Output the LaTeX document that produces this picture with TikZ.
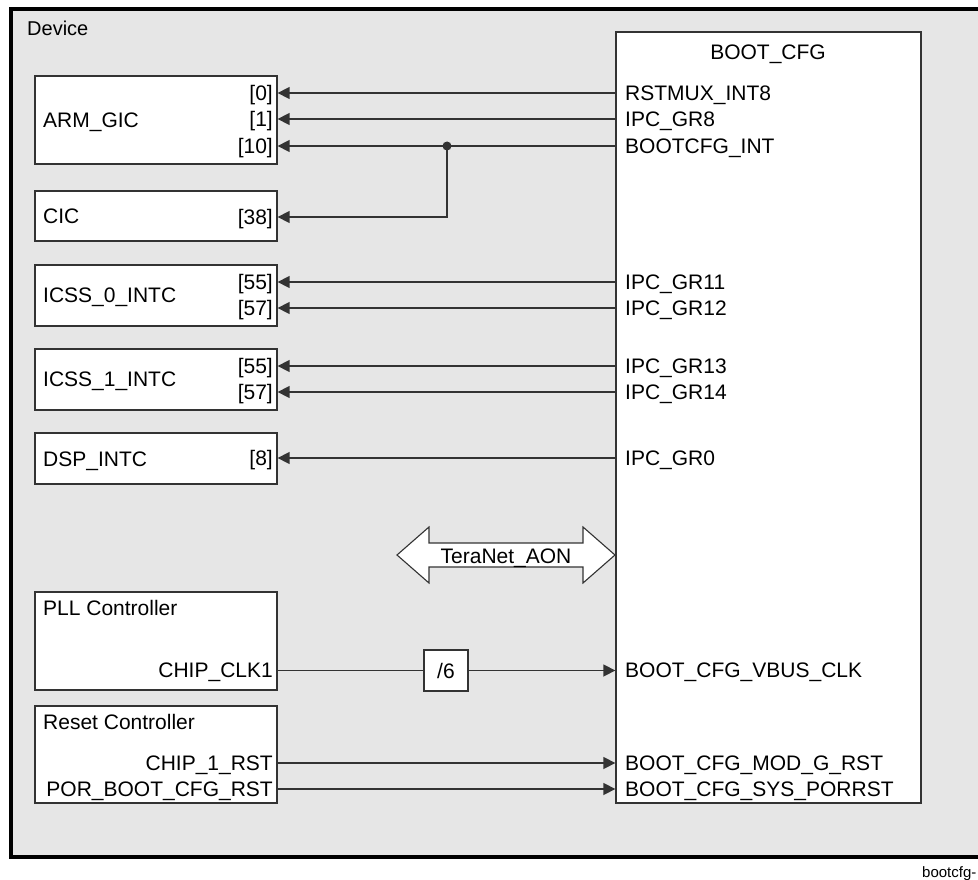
\documentclass[tikz,border=0pt]{standalone}
\usepackage{fontspec}
\setmainfont{Liberation Sans}
\usetikzlibrary{arrows.meta}
\definecolor{bg}{HTML}{E6E6E6}
\definecolor{ln}{HTML}{333333}
\begin{document}
\begin{tikzpicture}[x=1pt,y=-1pt,
  box/.style={draw=ln, line width=1.3pt, fill=white, inner sep=0pt},
  sig/.style={draw=ln, line width=1.5pt, -{Triangle[length=12pt,width=12pt]}},
  wire/.style={draw=ln, line width=1.5pt},
  lbl/.style={inner sep=0pt, font=\fontsize{21}{25}\selectfont},
  pinl/.style={lbl, anchor=base east},
  pinr/.style={lbl, anchor=base west},
  bname/.style={lbl, anchor=base west},
]
\useasboundingbox (0,0) rectangle (978,880);
\begin{scope}
  \clip (0,0) rectangle (978,880);
  \node[draw=black, line width=4pt, fill=bg, inner sep=0pt,
        minimum width=990pt, minimum height=848pt] (dev) at (505.5,433) {};
\end{scope}
\node[lbl, anchor=base west, font=\fontsize{20}{24}\selectfont] (devlbl) at (27,35.5) {Device};

% boxes
\node[box, minimum width=305pt, minimum height=771pt] (boot) at (768.5,417.5) {};
\node[box, minimum width=242pt, minimum height=88pt] (arm) at (156,120) {};
\node[box, minimum width=242pt, minimum height=50pt] (cic) at (156,216) {};
\node[box, minimum width=242pt, minimum height=61pt] (icss0) at (156,295.5) {};
\node[box, minimum width=242pt, minimum height=61pt] (icss1) at (156,379.5) {};
\node[box, minimum width=242pt, minimum height=51pt] (dsp) at (156,458.5) {};
\node[box, minimum width=242pt, minimum height=98pt] (pll) at (156,641) {};
\node[box, minimum width=242pt, minimum height=97pt] (rst) at (156,754.5) {};
\node[box, minimum width=44pt, minimum height=41pt] (div) at (446,670.5) {};

% box names
\node[lbl, anchor=base] (boottitle) at (768,59.5) {BOOT\_CFG};
\node[bname] (armn) at (43,127.5) {ARM\_GIC};
\node[bname] (cicn) at (43,224) {CIC};
\node[bname] (icss0n) at (43,302) {ICSS\_0\_INTC};
\node[bname] (icss1n) at (43,386.5) {ICSS\_1\_INTC};
\node[bname] (dspn) at (43,466) {DSP\_INTC};
\node[bname] (plln) at (43,615) {PLL Controller};
\node[bname] (rstn) at (43,729) {Reset Controller};
\node[lbl, anchor=base] (divn) at (446,678.5) {/6};

% left pins
\node[pinl] (a0) at (273,100.5) {[0]};
\node[pinl] (a1) at (273,126.5) {[1]};
\node[pinl] (a10) at (273,153.5) {[10]};
\node[pinl] (c38) at (273,224.5) {[38]};
\node[pinl] (i55) at (273,289.5) {[55]};
\node[pinl] (i57) at (273,315.5) {[57]};
\node[pinl] (j55) at (273,373.5) {[55]};
\node[pinl] (j57) at (273,399.5) {[57]};
\node[pinl] (d8) at (273,465.5) {[8]};
\node[pinl] (clk) at (273,677.5) {CHIP\_CLK1};
\node[pinl] (r1) at (273,770.5) {CHIP\_1\_RST};
\node[pinl] (r2) at (273,796.5) {POR\_BOOT\_CFG\_RST};

% right pins
\node[pinr] (b0) at (625,100.5) {RSTMUX\_INT8};
\node[pinr] (b1) at (625,126.5) {IPC\_GR8};
\node[pinr] (b10) at (625,153.5) {BOOTCFG\_INT};
\node[pinr] (g11) at (625,289.5) {IPC\_GR11};
\node[pinr] (g12) at (625,315.5) {IPC\_GR12};
\node[pinr] (g13) at (625,373.5) {IPC\_GR13};
\node[pinr] (g14) at (625,399.5) {IPC\_GR14};
\node[pinr] (g0) at (625,465.5) {IPC\_GR0};
\node[pinr] (vb) at (625,677.5) {BOOT\_CFG\_VBUS\_CLK};
\node[pinr] (mg) at (625,770.5) {BOOT\_CFG\_MOD\_G\_RST};
\node[pinr] (sp) at (625,796.5) {BOOT\_CFG\_SYS\_PORRST};

% connection y-levels
\coordinate (y0) at (0,93);
\coordinate (y1) at (0,119);
\coordinate (y10) at (0,146);
\coordinate (y38) at (0,217);
\coordinate (y11) at (0,282);
\coordinate (y12) at (0,308);
\coordinate (y13) at (0,366);
\coordinate (y14) at (0,392);
\coordinate (yg0) at (0,458);
\coordinate (yclk) at (0,670.5);
\coordinate (yr1) at (0,763);
\coordinate (yr2) at (0,789);
\coordinate (jn) at (447,146);

% interrupts
\draw[sig] (boot.west |- y0) -- (arm.east |- y0);
\draw[sig] (boot.west |- y1) -- (arm.east |- y1);
\draw[sig] (boot.west |- y10) -- (arm.east |- y10);
\draw[sig] (jn) -- (jn |- y38) -- (cic.east |- y38);
\fill[ln] (jn) circle (4.5pt);
\draw[sig] (boot.west |- y11) -- (icss0.east |- y11);
\draw[sig] (boot.west |- y12) -- (icss0.east |- y12);
\draw[sig] (boot.west |- y13) -- (icss1.east |- y13);
\draw[sig] (boot.west |- y14) -- (icss1.east |- y14);
\draw[sig] (boot.west |- yg0) -- (dsp.east |- yg0);

% clock and resets
\draw[wire] (pll.east |- yclk) -- (div.west);
\draw[sig] (div.east) -- (boot.west |- yclk);
\draw[sig] (rst.east |- yr1) -- (boot.west |- yr1);
\draw[sig] (rst.east |- yr2) -- (boot.west |- yr2);

% TeraNet double arrow
\draw[ln, line width=1.1pt, fill=white, line join=miter]
  (397,555) -- (429,527) -- (429,543) -- (583,543) -- (583,527) -- (615,555)
  -- (583,583) -- (583,567) -- (429,567) -- (429,583) -- cycle;
\node[lbl, anchor=base] (tera) at (506,563) {TeraNet\_AON};

\node[inner sep=0pt, anchor=base west, font=\fontsize{15}{18}\selectfont] (fig) at (922,877) {bootcfg-};
\end{tikzpicture}
\end{document}
